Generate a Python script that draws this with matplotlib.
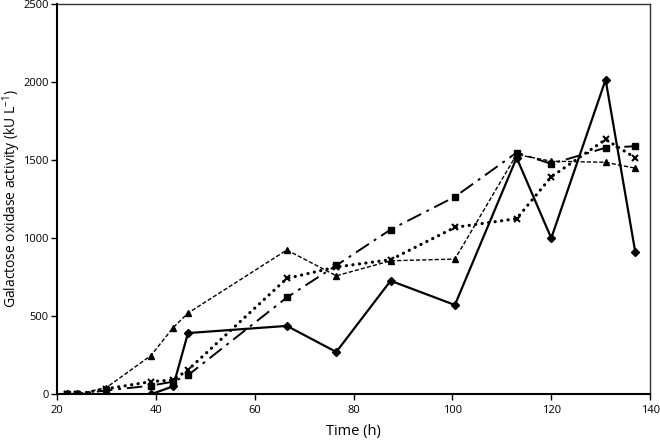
import matplotlib
matplotlib.use("Agg")
import matplotlib.pyplot as plt

plt.rcParams["font.family"] = ["Open Sans", "DejaVu Sans"]
plt.rcParams["mathtext.fontset"] = "custom"
plt.rcParams["mathtext.rm"] = "Open Sans"

# Sampling times (h)
time_h = [22, 24, 30, 39, 43.5, 46.5, 66.5, 76.5, 87.5, 100.5, 113, 120, 131, 137]

# Galactose oxidase activity (kU/L) per culture
diamond = [0, 0, 0, 0, 51, 392, 438, 271, 727, 572, 1515, 1000, 2015, 911]
square = [0, 0, 25, 55, 81, 122, 620, 825, 1055, 1265, 1548, 1476, 1579, 1589]
triangle = [0, 0, 43, 248, 427, 520, 924, 759, 855, 866, 1536, 1493, 1486, 1448]
cross = [0, 0, 35, 81, 92, 156, 742, 815, 862, 1069, 1125, 1393, 1632, 1515]

fig = plt.figure(figsize=(6.6, 4.43), dpi=100)
ax = fig.add_axes([0.0864, 0.110, 0.8986, 0.881])

ax.plot(time_h, diamond, color="black", linewidth=1.6, marker="D", markersize=4.5)
ax.plot(time_h, square, color="black", linewidth=1.4, linestyle=(0, (8, 3, 1.5, 3)),
        marker="s", markersize=4.5)
ax.plot(time_h, triangle, color="black", linewidth=1.0, linestyle=(0, (3, 1.5)),
        marker="^", markersize=4.5)
ax.plot(time_h, cross, color="black", linewidth=2.3, linestyle=(0, (0.05, 2.0)),
        dash_capstyle="round", marker="x", markersize=5, markeredgewidth=1.5)

ax.set_xlim(20, 140)
ax.set_ylim(0, 2500)
ax.set_xticks([20, 40, 60, 80, 100, 120, 140])
ax.set_yticks([0, 500, 1000, 1500, 2000, 2500])
ax.tick_params(axis="both", labelsize=8, direction="out", length=4, width=1)
ax.tick_params(axis="y", pad=2)
for s in ax.spines.values():
    s.set_linewidth(1.0)
    s.set_color("#333333")
ax.spines["left"].set_color("black")
ax.spines["left"].set_linewidth(1.5)
ax.spines["bottom"].set_color("black")
ax.spines["bottom"].set_linewidth(1.5)

ax.set_xlabel("Time (h)", fontsize=10.5, labelpad=6)
ax.set_ylabel("Galactose oxidase activity (kU L$^{-1}$)", fontsize=10)
ax.yaxis.set_label_coords(-0.058, 0.5)

fig.savefig("out.png", dpi=100)
